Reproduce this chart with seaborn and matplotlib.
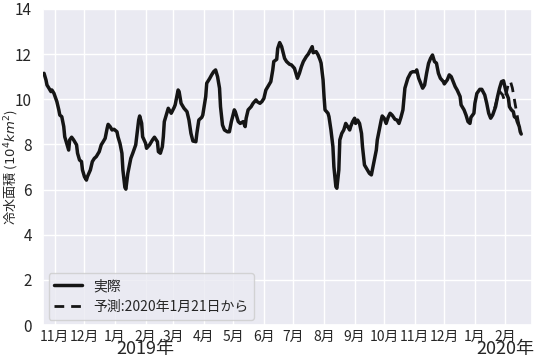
import matplotlib
matplotlib.use("Agg")
import matplotlib.pyplot as plt
import matplotlib.dates as mdates
import seaborn as sns
import pandas as pd
import numpy as np

# ---- data (day offsets from 2018-10-20, area in 10^4 km^2) ----
start_date = "2018-10-20"
actual_days = [1, 3, 4, 6, 8, 9, 11, 14, 16, 17, 19, 21, 22, 25, 26, 27, 29, 31, 34, 35,
               37, 39, 40, 42, 44, 45, 48, 50, 52, 54, 57, 59, 61, 63, 65, 66, 68, 70, 72, 75,
               76, 78, 80, 81, 83, 84, 86, 89, 91, 94, 95, 97, 98, 100, 101, 104, 105, 108, 111, 113,
               116, 117, 119, 121, 122, 123, 126, 127, 130, 133, 134, 137, 138, 140, 143, 146, 148, 150, 152, 155,
               156, 158, 161, 162, 165, 166, 169, 171, 173, 175, 177, 179, 180, 182, 184, 187, 189, 191, 194, 195,
               198, 200, 203, 205, 206, 208, 211, 213, 216, 217, 220, 222, 224, 226, 229, 231, 233, 234, 237, 238,
               240, 242, 245, 247, 250, 252, 255, 256, 258, 260, 262, 264, 267, 269, 272, 273, 274, 277, 279, 281,
               282, 284, 285, 286, 289, 290, 292, 294, 295, 297, 298, 300, 301, 303, 305, 307, 309, 311, 312, 314,
               316, 317, 319, 321, 323, 324, 326, 328, 329, 331, 333, 334, 336, 338, 339, 341, 343, 344, 346, 348,
               350, 352, 354, 357, 359, 361, 363, 365, 367, 369, 370, 373, 375, 378, 379, 381, 383, 385, 387, 389,
               391, 393, 395, 397, 399, 401, 403, 406, 407, 410, 412, 414, 416, 418, 420, 423, 424, 427, 429, 431,
               433, 434, 437, 438, 440, 443, 445, 448, 450, 452, 454, 456, 459, 461, 463, 465, 467, 468, 470, 472,
               473, 475, 477, 478, 480, 481, 483, 484, 485]
actual_vals = [11.15, 10.85, 10.63, 10.49, 10.34, 10.41, 10.27, 9.90, 9.53, 9.30, 9.23, 8.79, 8.34, 7.90, 7.75, 8.20, 8.32, 8.20, 7.98, 7.61,
               7.31, 7.24, 6.87, 6.57, 6.42, 6.57, 6.87, 7.24, 7.38, 7.46, 7.68, 7.98, 8.12, 8.27, 8.71, 8.89, 8.79, 8.64, 8.67, 8.56,
               8.34, 8.05, 7.61, 6.87, 6.10, 6.02, 6.72, 7.38, 7.61, 7.98, 8.34, 9.08, 9.26, 8.94, 8.34, 8.05, 7.83, 7.98, 8.20, 8.32,
               8.12, 7.68, 7.61, 7.90, 8.34, 9.01, 9.45, 9.60, 9.38, 9.64, 9.75, 10.41, 10.34, 9.82, 9.60, 9.45, 9.08, 8.49, 8.15, 8.12,
               8.49, 9.08, 9.20, 9.30, 10.12, 10.71, 10.92, 11.08, 11.22, 11.30, 11.00, 10.49, 9.67, 8.86, 8.64, 8.56, 8.56, 9.01, 9.53, 9.45,
               9.01, 8.93, 9.01, 8.79, 9.16, 9.53, 9.67, 9.82, 9.97, 9.90, 9.82, 9.90, 10.04, 10.41, 10.63, 10.78, 11.30, 11.67, 11.77, 12.25,
               12.51, 12.33, 11.81, 11.67, 11.55, 11.52, 11.37, 11.22, 10.93, 11.15, 11.44, 11.67, 11.89, 12.00, 12.25, 12.33, 12.06, 12.11, 11.96, 11.74,
               11.60, 10.86, 10.12, 9.53, 9.38, 9.23, 8.64, 7.90, 7.01, 6.13, 6.06, 6.87, 8.20, 8.49, 8.64, 8.93, 8.79, 8.64, 8.79, 9.01,
               9.16, 8.93, 9.08, 8.93, 8.49, 7.90, 7.09, 6.94, 6.87, 6.72, 6.65, 6.87, 7.31, 7.75, 8.20, 8.64, 9.08, 9.26, 9.16, 8.93,
               9.20, 9.38, 9.30, 9.11, 9.08, 8.93, 9.20, 9.53, 10.49, 10.78, 10.93, 11.18, 11.22, 11.22, 11.30, 10.93, 10.71, 10.49, 10.63, 11.15,
               11.59, 11.81, 11.96, 11.67, 11.60, 11.15, 10.93, 10.78, 10.68, 10.86, 11.08, 11.00, 10.78, 10.56, 10.41, 10.12, 9.75, 9.53, 9.30, 9.01,
               8.93, 9.20, 9.38, 9.82, 10.26, 10.44, 10.44, 10.19, 9.82, 9.38, 9.16, 9.30, 9.67, 10.12, 10.49, 10.78, 10.82, 10.63, 10.26, 10.04,
               9.67, 9.53, 9.45, 9.23, 9.16, 9.01, 8.79, 8.56, 8.46]
forecast_days = [458, 461, 463, 466, 468, 470, 472, 474, 476, 478, 480, 482, 484, 485]
forecast_vals = [9.60, 10.10, 10.35, 10.20, 9.95, 10.30, 10.70, 10.80, 10.50, 10.00, 9.50, 9.00, 8.60, 8.55]

legend_labels = ["実際", "予測:2020年1月21日から"]
year_labels = ["2019年", "2020年"]
ylabel = "冷水面積 ($10^4km^2$)"

# ---- build frames ----
base = pd.Timestamp(start_date)
df_act = pd.DataFrame({"date": base + pd.to_timedelta(actual_days, unit="D"),
                       "value": actual_vals, "kind": legend_labels[0]})
df_fc = pd.DataFrame({"date": base + pd.to_timedelta(forecast_days, unit="D"),
                      "value": forecast_vals, "kind": legend_labels[1]})

sns.set_theme(style="darkgrid")
plt.rcParams["font.family"] = ["Noto Sans CJK JP", "DejaVu Sans"]
plt.rcParams["axes.unicode_minus"] = False

fig = plt.figure(figsize=(5.38, 3.58), dpi=100)
ax = fig.add_axes([0.080, 0.092, 0.909, 0.883])

sns.lineplot(data=df_act, x="date", y="value", color="#151515", linewidth=2.5,
             ax=ax, label=legend_labels[0], zorder=3)
sns.lineplot(data=df_fc, x="date", y="value", color="#151515", linewidth=2.0,
             linestyle=(0, (3.5, 2.5)), ax=ax, label=legend_labels[1], zorder=2)

ax.set_xlim(pd.Timestamp("2018-10-20"), pd.Timestamp("2020-02-28"))
ax.set_ylim(0, 14)
ax.set_yticks(np.arange(0, 15, 2))
ax.tick_params(axis="y", labelsize=11, pad=2)

ax.xaxis.set_major_locator(mdates.MonthLocator())
ax.xaxis.set_major_formatter(plt.FuncFormatter(lambda v, p: f"{mdates.num2date(v).month}月"))
ax.tick_params(axis="x", labelsize=10, pad=-2.5)

ax.set_xlabel("")
ax.set_ylabel(ylabel, fontsize=9.5)
ax.yaxis.set_label_coords(-0.046, 0.5)

for lbl, d in zip(year_labels, ["2019-02-01", "2020-02-01"]):
    ax.annotate(lbl, xy=(pd.Timestamp(d), 0), xycoords=("data", "axes fraction"),
                xytext=(0, -10.5), textcoords="offset points", ha="center", va="top",
                fontsize=13, color="0.15", annotation_clip=False)

leg = ax.legend(loc="lower left", fontsize=10, frameon=True, handlelength=2.0,
                borderaxespad=0.4, labelspacing=0.5)

fig.savefig("out.png", dpi=100)
